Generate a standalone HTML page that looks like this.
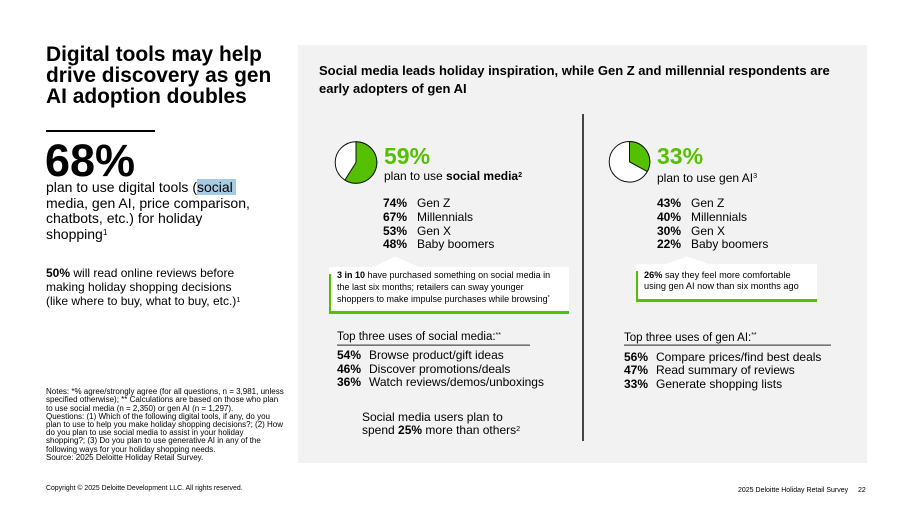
<!DOCTYPE html>
<html><head><meta charset="utf-8">
<style>
*{margin:0;padding:0;box-sizing:border-box}
html,body{width:911px;height:510px;background:#fff;overflow:hidden}
body{position:relative;font-family:"Liberation Sans",Arial,sans-serif;color:#000}
.a{position:absolute;white-space:nowrap}
b{font-weight:700}
sup{font-size:0.6em;vertical-align:0;position:relative;top:-0.5em}
</style></head><body>

<div class="a" style="left:46px;top:45px;font-size:20.9px;line-height:20.8px;font-weight:700">Digital tools may help<br>drive discovery as gen<br>AI adoption doubles</div>
<div class="a" style="left:46px;top:130px;width:109px;height:2px;background:#000"></div>
<div class="a" style="left:45px;top:138.4px;font-size:45px;line-height:45px;font-weight:700">68%</div>
<div class="a" style="left:46px;top:179.9px;font-size:14px;line-height:15.8px">plan to use digital tools (<span style="background:#a8cbe4;padding-right:3px">social</span><br>media, gen AI, price comparison,<br>chatbots, etc.) for holiday<br>shopping<sup>1</sup></div>
<div class="a" style="left:46px;top:266px;font-size:12px;line-height:14.2px"><b>50%</b> will read online reviews before<br>making holiday shopping decisions<br>(like where to buy, what to buy, etc.)<sup>1</sup></div>
<div class="a" style="left:46px;top:388.1px;font-size:8px;line-height:8.2px">Notes: *% agree/strongly agree (for all questions, n = 3,981, unless<br>specified otherwise); ** Calculations are based on those who plan<br>to use social media (n = 2,350) or gen AI (n = 1,297).<br>Questions: (1) Which of the following digital tools, if any, do you<br>plan to use to help you make holiday shopping decisions?; (2) How<br>do you plan to use social media to assist in your holiday<br>shopping?; (3) Do you plan to use generative AI in any of the<br>following ways for your holiday shopping needs.<br>Source: 2025 Deloitte Holiday Retail Survey.</div>
<div class="a" style="left:46px;top:485.3px;font-size:6.9px;line-height:8px">Copyright © 2025 Deloitte Development LLC. All rights reserved.</div>
<div class="a" style="left:738px;top:486.6px;font-size:7px;line-height:8px">2025 Deloitte Holiday Retail Survey</div>
<div class="a" style="left:858px;top:486.6px;font-size:7px;line-height:8px">22</div>

<!-- panel -->
<div class="a" style="left:298px;top:45px;width:569px;height:418px;background:#f2f2f2"></div>
<div class="a" style="left:319px;top:62px;font-size:13px;line-height:17.7px;font-weight:700">Social media leads holiday inspiration, while Gen Z and millennial respondents are<br>early adopters of gen AI</div>
<div class="a" style="left:582px;top:114px;width:1.6px;height:327px;background:#444"></div>

<svg class="a" style="left:0;top:0" width="911" height="510" viewBox="0 0 911 510">
  <circle cx="356" cy="162.5" r="20.8" fill="#fff" stroke="#111" stroke-width="1"/>
  <path d="M356 162.5 L356 141.7 A20.8 20.8 0 1 1 344.85 180.05 Z" fill="#55c000" stroke="#111" stroke-width="1"/>
  <circle cx="629.5" cy="161.8" r="20.3" fill="#fff" stroke="#111" stroke-width="1"/>
  <path d="M629.5 161.8 L629.5 141.5 A20.3 20.3 0 0 1 647.3 171.6 Z" fill="#55c000" stroke="#111" stroke-width="1"/>
  <!-- callout 1 -->
  <polygon points="372,267.5 395,256.5 420,267.5" fill="#fff"/>
  <rect x="329" y="267" width="240" height="47" fill="#fff"/>
  <rect x="329" y="274" width="2" height="40" fill="#55c000"/>
  <rect x="329" y="311" width="240" height="3" fill="#55c000"/>
  <!-- callout 2 -->
  <polygon points="665,264.5 687,256.5 710,264.5" fill="#fff"/>
  <rect x="636" y="264" width="181" height="38" fill="#fff"/>
  <rect x="636" y="271" width="2" height="31" fill="#55c000"/>
  <rect x="636" y="299" width="181" height="3" fill="#55c000"/>
  <!-- underlines -->
  <rect x="337" y="344.5" width="193" height="1.3" fill="#555"/>
  <rect x="624" y="344.5" width="207" height="1.3" fill="#555"/>
</svg>

<!-- left column -->
<div class="a" style="left:384px;top:144.8px;font-size:23px;line-height:23px;font-weight:700;color:#55c000">59%</div>
<div class="a" style="left:384px;top:169.3px;font-size:12px;line-height:14px">plan to use <b>social media<sup>2</sup></b></div>
<div class="a" style="left:383px;top:197.3px;font-size:12px;line-height:13.7px;font-weight:700">74%<br>67%<br>53%<br>48%</div>
<div class="a" style="left:417px;top:197.3px;font-size:12px;line-height:13.7px">Gen Z<br>Millennials<br>Gen X<br>Baby boomers</div>
<div class="a" style="left:337px;top:270.4px;font-size:9px;line-height:11.7px"><b>3 in 10</b> have purchased something on social media in<br>the last six months; retailers can sway younger<br>shoppers to make impulse purchases while browsing<sup>*</sup></div>
<div class="a" style="left:337px;top:330px;font-size:11.5px;line-height:14px">Top three uses of social media:<sup>**</sup></div>
<div class="a" style="left:337px;top:349px;font-size:12px;line-height:13.7px;font-weight:700">54%<br>46%<br>36%</div>
<div class="a" style="left:369px;top:349px;font-size:12px;line-height:13.7px">Browse product/gift ideas<br>Discover promotions/deals<br>Watch reviews/demos/unboxings</div>
<div class="a" style="left:362px;top:410.8px;font-size:12px;line-height:13.5px">Social media users plan to<br>spend <b>25%</b> more than others<sup>2</sup></div>

<!-- right column -->
<div class="a" style="left:657px;top:144.8px;font-size:23px;line-height:23px;font-weight:700;color:#55c000">33%</div>
<div class="a" style="left:657px;top:170.5px;font-size:12px;line-height:14px">plan to use gen AI<sup>3</sup></div>
<div class="a" style="left:657px;top:197.3px;font-size:12px;line-height:13.7px;font-weight:700">43%<br>40%<br>30%<br>22%</div>
<div class="a" style="left:691px;top:197.3px;font-size:12px;line-height:13.7px">Gen Z<br>Millennials<br>Gen X<br>Baby boomers</div>
<div class="a" style="left:644px;top:270px;font-size:9.2px;line-height:10.8px"><b>26%</b> say they feel more comfortable<br>using gen AI now than six months ago</div>
<div class="a" style="left:624px;top:330.5px;font-size:11.5px;line-height:14px">Top three uses of gen AI:<sup>**</sup></div>
<div class="a" style="left:624px;top:350.7px;font-size:12px;line-height:13.7px;font-weight:700">56%<br>47%<br>33%</div>
<div class="a" style="left:656px;top:350.7px;font-size:12px;line-height:13.7px">Compare prices/find best deals<br>Read summary of reviews<br>Generate shopping lists</div>

</body></html>
